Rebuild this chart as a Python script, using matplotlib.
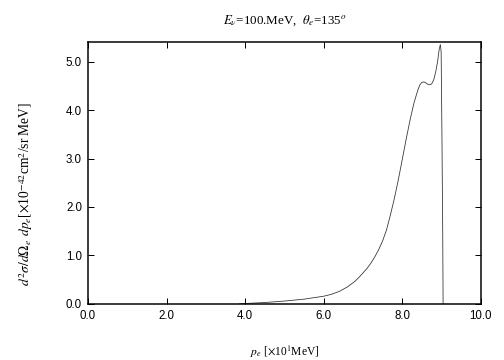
import matplotlib
matplotlib.use("Agg")
import matplotlib.pyplot as plt

# electron momentum [x10 MeV] and cross section [x10^-42 cm^2/sr MeV]
p_e = [3.85, 4.0, 4.5, 5.0, 5.5, 6.0, 6.2, 6.4, 6.6, 6.8, 6.9, 7.0, 7.1,
       7.2, 7.3, 7.4, 7.5, 7.6, 7.7, 7.8, 7.9, 8.0, 8.1, 8.2, 8.3, 8.4,
       8.45, 8.5, 8.55, 8.6, 8.65, 8.7, 8.75, 8.8, 8.85, 8.9, 8.94, 8.97,
       8.99, 9.01, 9.03, 9.04]
xsec = [0.0, 0.01, 0.03, 0.06, 0.1, 0.16, 0.2, 0.26, 0.35, 0.47, 0.55,
        0.64, 0.73, 0.84, 0.97, 1.12, 1.3, 1.53, 1.84, 2.18, 2.56, 2.98,
        3.4, 3.8, 4.15, 4.42, 4.52, 4.57, 4.58, 4.56, 4.53, 4.52, 4.54,
        4.62, 4.78, 5.0, 5.25, 5.35, 5.2, 3.5, 1.5, 0.0]
xticks = [0, 2, 4, 6, 8, 10]
yticks = [0, 1, 2, 3, 4, 5]

plt.rcParams['mathtext.fontset'] = 'stix'
plt.rcParams['font.family'] = 'Liberation Sans'

fig = plt.figure(figsize=(7, 5), dpi=72)
ax = fig.add_axes([0.1746, 0.1556, 0.7794, 0.7274])
ax.plot(p_e, xsec, color='#333333', lw=0.8)

ax.set_xlim(0, 10)
ax.set_ylim(0, 5.4)
ax.set_xticks(xticks)
ax.set_yticks(yticks)
ax.set_xticklabels(['%.1f' % t for t in xticks])
ax.set_yticklabels(['%.1f' % t for t in yticks])
ax.tick_params(direction='in', top=True, right=True, length=6, width=1,
               labelsize=11.5, pad=6)
for s in ax.spines.values():
    s.set_linewidth(1.5)

serif = 'Liberation Serif'
ax.set_title(r'$E_\nu$=100.MeV,  $\theta_e$=135$^o$', family=serif,
             fontsize=13, pad=18)
ax.set_xlabel(r'$p_e$ [$\times$10$^1$MeV]', family=serif, fontsize=11.5,
              labelpad=22)
ax.set_ylabel(r'$d^2\sigma/d\Omega_e\;\,dp_e$[$\times$10$^{-42}$cm$^2$/sr MeV]',
              family=serif, fontsize=13.5)
ax.yaxis.set_label_coords(-0.135, 0.42)

fig.savefig('out.png', dpi=72)
